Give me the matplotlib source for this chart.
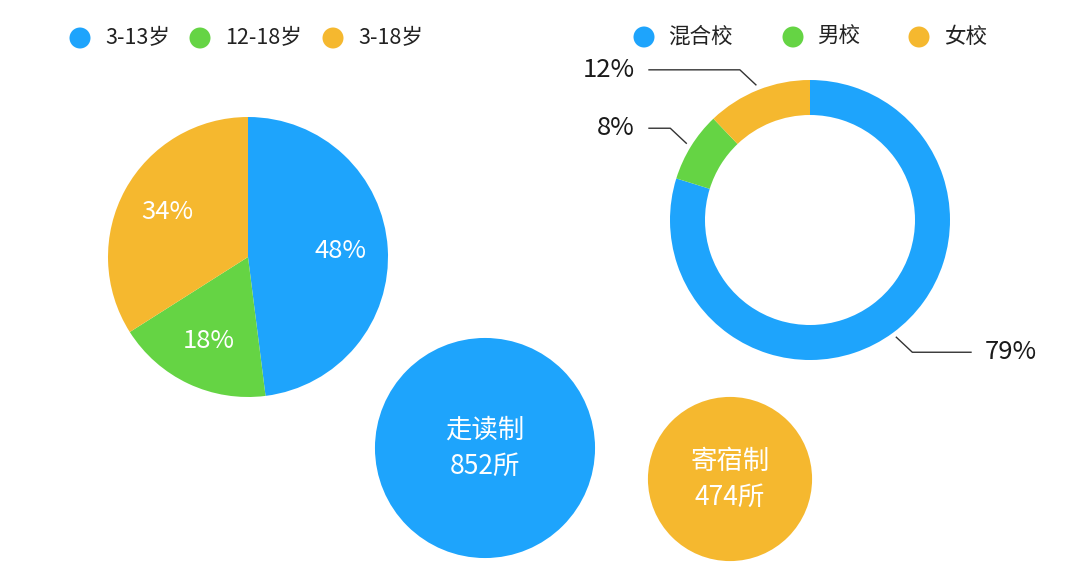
"""
School statistics: age groups pie, school type donut, day/boarding bubbles
"""

import numpy as np
import matplotlib
matplotlib.use("Agg")
import matplotlib.pyplot as plt
from matplotlib.patches import Circle

plt.rcParams['font.family'] = ['Noto Sans CJK SC', 'DejaVu Sans']

# data
age_labels = ['3-13岁', '12-18岁', '3-18岁']
age_values = [48, 18, 34]

school_labels = ['混合校', '男校', '女校']
school_values = [79, 8, 12]

mode_labels = ['走读制', '寄宿制']
mode_counts = [852, 474]

# colours
BLUE = '#1EA4FC'
GREEN = '#65D444'
ORANGE = '#F5B82F'
colors = [BLUE, GREEN, ORANGE]

W, H = 1080, 580


def py(y):
    """pixel y (from top) -> data y"""
    return H - y


fig = plt.figure(figsize=(W / 100, H / 100), dpi=100)
ax = fig.add_axes([0, 0, 1, 1])

# pie chart of age groups
ax.pie(age_values, colors=colors, radius=140, center=(248, py(257)),
       startangle=90, counterclock=False, autopct='%.0f%%', pctdistance=0.66,
       textprops=dict(color='white', fontsize=18.5),
       wedgeprops=dict(linewidth=0))

# donut chart of school types
cx, cy = 810, py(220)
r = 140
wedges, _ = ax.pie(school_values, colors=colors, radius=r, center=(cx, cy),
                   startangle=90, counterclock=False,
                   wedgeprops=dict(width=35, linewidth=0))

for w, v in zip(wedges, school_values):
    mid = np.deg2rad((w.theta1 + w.theta2) / 2)
    sx, sy = np.sign(np.cos(mid)), np.sign(np.sin(mid))
    x0 = cx + 1.04 * r * np.cos(mid)
    y0 = cy + 1.04 * r * np.sin(mid)
    x1, y1 = x0 + sx * 16, y0 + sy * 15
    x2 = cx + sx * 161
    ax.plot([x0, x1, x2], [y0, y1, y1], color='#333333', lw=1)
    ax.text(x2 + sx * 14, y1, f'{v}%', fontsize=18.5, color='#1a1a1a',
            ha='left' if sx > 0 else 'right', va='center')

# bubbles for day / boarding schools
bubble_pos = [(485, 448), (730, 479)]
k = 3.77
for (bx, by), lab, n, c in zip(bubble_pos, mode_labels, mode_counts, [BLUE, ORANGE]):
    ax.add_patch(Circle((bx, py(by)), k * np.sqrt(n), color=c, lw=0))
    ax.text(bx, py(by - 18), lab, fontsize=19, color='white', ha='center', va='center')
    ax.text(bx, py(by + 18), f'{n}所', fontsize=19, color='white', ha='center', va='center')

# legends
legend_left = [(80, 105), (200, 225), (333, 358)]
legend_right = [(644, 668), (793, 817), (919, 944)]
for items, labels, y in [(legend_left, age_labels, 38), (legend_right, school_labels, 37)]:
    for (mx, tx), lab, c in zip(items, labels, colors):
        ax.add_patch(Circle((mx, py(y)), 10.5, color=c, lw=0))
        ax.text(tx, py(y), lab, fontsize=15.5, color='#222222', ha='left', va='center')

ax.set_xlim(0, W)
ax.set_ylim(0, H)
ax.set_aspect('equal')
ax.axis('off')

fig.savefig('out.png', dpi=100, facecolor='white')
